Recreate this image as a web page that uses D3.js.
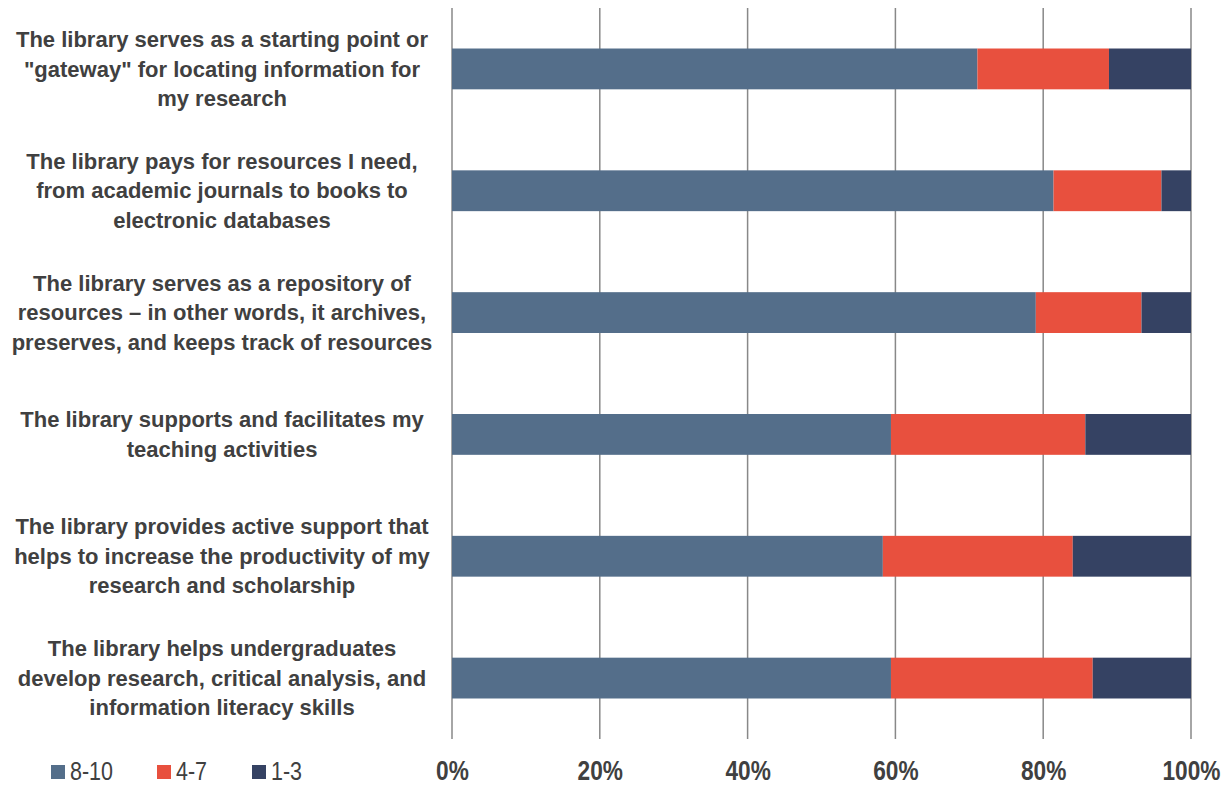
<!DOCTYPE html>
<html>
<head>
<meta charset="utf-8">
<script src="https://cdn.jsdelivr.net/npm/d3@7"></script>
<style>
  body { margin: 0; background: #fff; }
  svg { display: block; }
  .cat { font-family: "Liberation Sans", Arial, sans-serif; font-weight: bold; font-size: 22px; fill: #404040; }
  .tick text { font-family: "Liberation Sans", Arial, sans-serif; font-weight: bold; font-size: 27px; fill: #404040; }
  .legend text { font-family: "Liberation Sans", Arial, sans-serif; font-size: 25px; fill: #404040; }
</style>
</head>
<body>
<div id="chart"></div>
<script>
// categories, top to bottom
const categories = [
  ['The library serves as a starting point or', '"gateway" for locating information for', 'my research'],
  ['The library pays for resources I need,', 'from academic journals to books to', 'electronic databases'],
  ['The library serves as a repository of', 'resources \u2013 in other words, it archives,', 'preserves, and keeps track of resources'],
  ['The library supports and facilitates my', 'teaching activities'],
  ['The library provides active support that', 'helps to increase the productivity of my', 'research and scholarship'],
  ['The library helps undergraduates', 'develop research, critical analysis, and', 'information literacy skills']
];

// series (percent)
const seriesNames = ['8-10', '4-7', '1-3'];
const high = [71.1, 81.4, 79.0, 59.4, 58.3, 59.4];
const mid = [17.8, 14.6, 14.3, 26.3, 25.7, 27.3];
const low = [11.1, 4.0, 6.7, 14.3, 16.0, 13.3];
const colors = ['#546e8a', '#e8503e', '#354263'];

const tickValues = [0, 0.2, 0.4, 0.6, 0.8, 1];

const W = 1230, H = 787;
const plot = { left: 452, right: 1191, top: 8, bottom: 739 };

const svg = d3.select('#chart').append('svg')
  .attr('width', W)
  .attr('height', H);

const x = d3.scaleLinear([0, 1], [plot.left, plot.right]);
const y = d3.scaleBand(d3.range(categories.length), [plot.top, plot.bottom])
  .paddingInner(0.665)
  .paddingOuter(0.3325);

// gridlines
svg.append('g')
  .selectAll('line')
  .data(tickValues)
  .enter().append('line')
  .attr('x1', d => x(d))
  .attr('x2', d => x(d))
  .attr('y1', plot.top)
  .attr('y2', plot.bottom)
  .attr('stroke', '#888')
  .attr('stroke-width', 1.5);

// stack the data
const rows = categories.map((c, i) => ({ i: i, '8-10': high[i], '4-7': mid[i], '1-3': low[i] }));
const stack = d3.stack().keys(seriesNames)
  .offset(d3.stackOffsetExpand)(rows);

svg.append('g')
  .selectAll('g')
  .data(stack)
  .enter().append('g')
  .attr('fill', (d, k) => colors[k])
  .selectAll('rect')
  .data(d => d)
  .enter().append('rect')
  .attr('x', d => x(d[0]))
  .attr('width', d => x(d[1]) - x(d[0]))
  .attr('y', d => y(d.data.i))
  .attr('height', y.bandwidth());

// x axis - condensed bold labels
const xAxis = d3.axisBottom(x)
  .tickValues(tickValues)
  .tickFormat(d3.format('.0%'))
  .tickSize(0)
  .tickPadding(0);

svg.append('g')
  .attr('transform', 'translate(0,780)')
  .call(xAxis)
  .call(g => g.select('.domain').remove())
  .selectAll('text')
  .attr('y', 0)
  .attr('dy', 0)
  .attr('transform', 'scale(0.84,1)');

// category labels
const lineH = 29.5;
const labels = svg.append('g');
categories.forEach((lines, i) => {
  const cy = y(i) + y.bandwidth() / 2;
  const t = labels.append('text')
    .attr('class', 'cat')
    .attr('text-anchor', 'middle')
    .attr('y', cy - (lines.length - 1) * lineH / 2);
  lines.forEach((ln, j) => {
    t.append('tspan')
      .attr('x', 222)
      .attr('dy', j === 0 ? '0.35em' : lineH)
      .text(ln);
  });
});

// legend
const legendX = [51, 157, 252];
const legend = svg.append('g').attr('class', 'legend');
seriesNames.forEach((name, k) => {
  legend.append('rect')
    .attr('x', legendX[k])
    .attr('y', 765)
    .attr('width', 14)
    .attr('height', 14)
    .attr('fill', colors[k]);
  legend.append('text')
    .attr('transform', 'translate(' + (legendX[k] + 19) + ',780) scale(0.86,1)')
    .text(name);
});
</script>
</body>
</html>
